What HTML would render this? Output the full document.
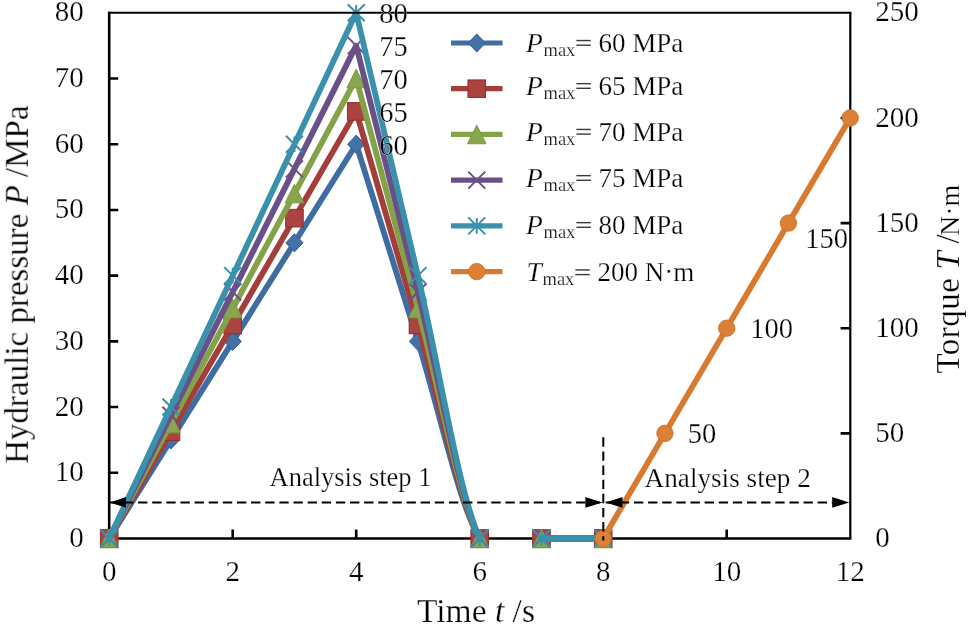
<!DOCTYPE html><html><head><meta charset="utf-8"><style>html,body{margin:0;padding:0;background:#fff;overflow:hidden}svg{display:block}</style></head><body>
<svg width="968" height="625" viewBox="0 0 968 625" font-family="&quot;Liberation Serif&quot;, serif" fill="#000">
<rect x="0" y="0" width="968" height="625" fill="#fff"/>
<path d="M109.20,472.79h9M109.20,407.07h9M109.20,341.36h9M109.20,275.65h9M109.20,209.94h9M109.20,144.22h9M109.20,78.51h9M232.70,538.50v-9M356.20,538.50v-9M479.70,538.50v-9M603.20,538.50v-9M726.70,538.50v-9M850.20,433.36h-9.6M850.20,328.22h-9.6M850.20,223.08h-9.6M850.20,117.94h-9.6" stroke="#000" stroke-width="2.6" fill="none"/>
<path d="M850.30,12.80V538.50" stroke="#000" stroke-width="2.2" fill="none"/>
<path d="M109.20,11.80V538.50H851.40" stroke="#000" stroke-width="2.6" fill="none"/>
<path d="M109.20,538.50 L170.95,439.93 L232.70,341.36 L294.45,242.79 L356.20,144.22 L417.95,341.36 C438.53,407.07 459.12,505.64 479.70,538.50 M541.45,538.50 L603.20,538.50" stroke="#3E6CA3" stroke-width="5.8" fill="none" stroke-linejoin="round" stroke-linecap="round"/>
<polygon points="109.20,529.40 117.80,538.50 109.20,547.60 100.60,538.50" fill="#4472A8" stroke="#30609A" stroke-width="1"/>
<polygon points="170.95,430.83 179.55,439.93 170.95,449.03 162.35,439.93" fill="#4472A8" stroke="#30609A" stroke-width="1"/>
<polygon points="232.70,332.26 241.30,341.36 232.70,350.46 224.10,341.36" fill="#4472A8" stroke="#30609A" stroke-width="1"/>
<polygon points="294.45,233.69 303.05,242.79 294.45,251.89 285.85,242.79" fill="#4472A8" stroke="#30609A" stroke-width="1"/>
<polygon points="356.20,135.12 364.80,144.22 356.20,153.32 347.60,144.22" fill="#4472A8" stroke="#30609A" stroke-width="1"/>
<polygon points="417.95,332.26 426.55,341.36 417.95,350.46 409.35,341.36" fill="#4472A8" stroke="#30609A" stroke-width="1"/>
<polygon points="479.70,529.40 488.30,538.50 479.70,547.60 471.10,538.50" fill="#4472A8" stroke="#30609A" stroke-width="1"/>
<polygon points="541.45,529.40 550.05,538.50 541.45,547.60 532.85,538.50" fill="#4472A8" stroke="#30609A" stroke-width="1"/>
<polygon points="603.20,529.40 611.80,538.50 603.20,547.60 594.60,538.50" fill="#4472A8" stroke="#30609A" stroke-width="1"/>
<path d="M109.20,538.50 L170.95,431.72 L232.70,324.93 L294.45,218.15 L356.20,111.37 L417.95,324.93 C438.53,396.12 459.12,502.91 479.70,538.50 M541.45,538.50 L603.20,538.50" stroke="#A43E3B" stroke-width="5.8" fill="none" stroke-linejoin="round" stroke-linecap="round"/>
<rect x="100.40" y="529.70" width="17.60" height="17.60" fill="#A94441" stroke="#962E2C" stroke-width="1"/>
<rect x="162.15" y="422.92" width="17.60" height="17.60" fill="#A94441" stroke="#962E2C" stroke-width="1"/>
<rect x="223.90" y="316.13" width="17.60" height="17.60" fill="#A94441" stroke="#962E2C" stroke-width="1"/>
<rect x="285.65" y="209.35" width="17.60" height="17.60" fill="#A94441" stroke="#962E2C" stroke-width="1"/>
<rect x="347.40" y="102.57" width="17.60" height="17.60" fill="#A94441" stroke="#962E2C" stroke-width="1"/>
<rect x="409.15" y="316.13" width="17.60" height="17.60" fill="#A94441" stroke="#962E2C" stroke-width="1"/>
<rect x="470.90" y="529.70" width="17.60" height="17.60" fill="#A94441" stroke="#962E2C" stroke-width="1"/>
<rect x="532.65" y="529.70" width="17.60" height="17.60" fill="#A94441" stroke="#962E2C" stroke-width="1"/>
<rect x="594.40" y="529.70" width="17.60" height="17.60" fill="#A94441" stroke="#962E2C" stroke-width="1"/>
<path d="M109.20,538.50 L170.95,423.50 L232.70,308.51 L294.45,193.51 L356.20,78.51 L417.95,308.51 C438.53,385.17 459.12,500.17 479.70,538.50 M541.45,538.50 L603.20,538.50" stroke="#84A247" stroke-width="5.8" fill="none" stroke-linejoin="round" stroke-linecap="round"/>
<polygon points="109.20,529.20 118.50,547.80 99.90,547.80" fill="#88A64C" stroke="#7C9A40" stroke-width="1"/>
<polygon points="170.95,414.20 180.25,432.80 161.65,432.80" fill="#88A64C" stroke="#7C9A40" stroke-width="1"/>
<polygon points="232.70,299.21 242.00,317.81 223.40,317.81" fill="#88A64C" stroke="#7C9A40" stroke-width="1"/>
<polygon points="294.45,184.21 303.75,202.81 285.15,202.81" fill="#88A64C" stroke="#7C9A40" stroke-width="1"/>
<polygon points="356.20,69.21 365.50,87.81 346.90,87.81" fill="#88A64C" stroke="#7C9A40" stroke-width="1"/>
<polygon points="417.95,299.21 427.25,317.81 408.65,317.81" fill="#88A64C" stroke="#7C9A40" stroke-width="1"/>
<polygon points="479.70,529.20 489.00,547.80 470.40,547.80" fill="#88A64C" stroke="#7C9A40" stroke-width="1"/>
<polygon points="541.45,529.20 550.75,547.80 532.15,547.80" fill="#88A64C" stroke="#7C9A40" stroke-width="1"/>
<polygon points="603.20,529.20 612.50,547.80 593.90,547.80" fill="#88A64C" stroke="#7C9A40" stroke-width="1"/>
<path d="M109.20,538.50 L170.95,415.29 L232.70,292.08 L294.45,168.87 L356.20,45.66 L417.95,292.08 C438.53,374.22 459.12,497.43 479.70,538.50 M541.45,538.50 L603.20,538.50" stroke="#6A5089" stroke-width="5.8" fill="none" stroke-linejoin="round" stroke-linecap="round"/>
<path d="M100.70,530.00L117.70,547.00M100.70,547.00L117.70,530.00" stroke="#6A5089" stroke-width="2" fill="none"/>
<path d="M162.45,406.79L179.45,423.79M162.45,423.79L179.45,406.79" stroke="#6A5089" stroke-width="2" fill="none"/>
<path d="M224.20,283.58L241.20,300.58M224.20,300.58L241.20,283.58" stroke="#6A5089" stroke-width="2" fill="none"/>
<path d="M285.95,160.37L302.95,177.37M285.95,177.37L302.95,160.37" stroke="#6A5089" stroke-width="2" fill="none"/>
<path d="M347.70,37.16L364.70,54.16M347.70,54.16L364.70,37.16" stroke="#6A5089" stroke-width="2" fill="none"/>
<path d="M409.45,283.58L426.45,300.58M409.45,300.58L426.45,283.58" stroke="#6A5089" stroke-width="2" fill="none"/>
<path d="M471.20,530.00L488.20,547.00M471.20,547.00L488.20,530.00" stroke="#6A5089" stroke-width="2" fill="none"/>
<path d="M532.95,530.00L549.95,547.00M532.95,547.00L549.95,530.00" stroke="#6A5089" stroke-width="2" fill="none"/>
<path d="M594.70,530.00L611.70,547.00M594.70,547.00L611.70,530.00" stroke="#6A5089" stroke-width="2" fill="none"/>
<path d="M109.20,538.50 L170.95,407.07 L232.70,275.65 L294.45,144.22 L356.20,12.80 L417.95,275.65 C438.53,363.27 459.12,494.69 479.70,538.50 M541.45,538.50 L603.20,538.50" stroke="#3A91AB" stroke-width="5.8" fill="none" stroke-linejoin="round" stroke-linecap="round"/>
<path d="M100.70,530.00L117.70,547.00M100.70,547.00L117.70,530.00M109.20,530.70L109.20,546.30" stroke="#3A91AB" stroke-width="2" fill="none"/>
<path d="M162.45,398.57L179.45,415.57M162.45,415.57L179.45,398.57M170.95,399.27L170.95,414.88" stroke="#3A91AB" stroke-width="2" fill="none"/>
<path d="M224.20,267.15L241.20,284.15M224.20,284.15L241.20,267.15M232.70,267.85L232.70,283.45" stroke="#3A91AB" stroke-width="2" fill="none"/>
<path d="M285.95,135.72L302.95,152.72M285.95,152.72L302.95,135.72M294.45,136.42L294.45,152.02" stroke="#3A91AB" stroke-width="2" fill="none"/>
<path d="M347.70,4.30L364.70,21.30M347.70,21.30L364.70,4.30M356.20,5.00L356.20,20.60" stroke="#3A91AB" stroke-width="2" fill="none"/>
<path d="M409.45,267.15L426.45,284.15M409.45,284.15L426.45,267.15M417.95,267.85L417.95,283.45" stroke="#3A91AB" stroke-width="2" fill="none"/>
<path d="M471.20,530.00L488.20,547.00M471.20,547.00L488.20,530.00M479.70,530.70L479.70,546.30" stroke="#3A91AB" stroke-width="2" fill="none"/>
<path d="M532.95,530.00L549.95,547.00M532.95,547.00L549.95,530.00M541.45,530.70L541.45,546.30" stroke="#3A91AB" stroke-width="2" fill="none"/>
<path d="M594.70,530.00L611.70,547.00M594.70,547.00L611.70,530.00M603.20,530.70L603.20,546.30" stroke="#3A91AB" stroke-width="2" fill="none"/>
<path d="M603.20,538.50 L664.95,433.36 L726.70,328.22 L788.45,223.08 L850.20,117.94" stroke="#D87B31" stroke-width="5.8" fill="none" stroke-linejoin="round" stroke-linecap="round"/>
<circle cx="603.20" cy="538.50" r="8.2" fill="#DC8036" stroke="#CE7128" stroke-width="0.9"/>
<circle cx="664.95" cy="433.36" r="8.2" fill="#DC8036" stroke="#CE7128" stroke-width="0.9"/>
<circle cx="726.70" cy="328.22" r="8.2" fill="#DC8036" stroke="#CE7128" stroke-width="0.9"/>
<circle cx="788.45" cy="223.08" r="8.2" fill="#DC8036" stroke="#CE7128" stroke-width="0.9"/>
<circle cx="850.20" cy="117.94" r="8.2" fill="#DC8036" stroke="#CE7128" stroke-width="0.9"/>
<path d="M108.00,12.80H851.40" stroke="#000" stroke-width="2.1" fill="none"/>
<g stroke="#000" stroke-width="2" stroke-dasharray="9.35 4.78" fill="none">
<path d="M109.8,502.4H600"/>
<path d="M605.7,502.4H834"/>
<path d="M603.3,437.3V540.5"/>
</g>
<polygon points="109.8,502.4 126.0,497.0 126.0,507.79999999999995" fill="#000"/>
<polygon points="602.4,502.4 585.4,497.0 585.4,507.79999999999995" fill="#000"/>
<polygon points="605.5,502.4 622.5,497.0 622.5,507.79999999999995" fill="#000"/>
<polygon points="849.2,502.4 832.2,497.0 832.2,507.79999999999995" fill="#000"/>
<g opacity="0.999" stroke="#fff" stroke-width="0.25">
<text x="83.8" y="546.9" font-size="29" text-anchor="end">0</text>
<text x="83.8" y="481.2" font-size="29" text-anchor="end">10</text>
<text x="83.8" y="415.5" font-size="29" text-anchor="end">20</text>
<text x="83.8" y="349.8" font-size="29" text-anchor="end">30</text>
<text x="83.8" y="284.0" font-size="29" text-anchor="end">40</text>
<text x="83.8" y="218.3" font-size="29" text-anchor="end">50</text>
<text x="83.8" y="152.6" font-size="29" text-anchor="end">60</text>
<text x="83.8" y="86.9" font-size="29" text-anchor="end">70</text>
<text x="83.8" y="21.2" font-size="29" text-anchor="end">80</text>
<text x="109.2" y="581" font-size="29" text-anchor="middle">0</text>
<text x="232.7" y="581" font-size="29" text-anchor="middle">2</text>
<text x="356.2" y="581" font-size="29" text-anchor="middle">4</text>
<text x="479.7" y="581" font-size="29" text-anchor="middle">6</text>
<text x="603.2" y="581" font-size="29" text-anchor="middle">8</text>
<text x="726.7" y="581" font-size="29" text-anchor="middle">10</text>
<text x="850.2" y="581" font-size="29" text-anchor="middle">12</text>
<text x="875.3" y="547.1" font-size="29">0</text>
<text x="875.3" y="442.0" font-size="29">50</text>
<text x="875.3" y="336.8" font-size="29">100</text>
<text x="875.3" y="231.7" font-size="29">150</text>
<text x="875.3" y="126.5" font-size="29">200</text>
<text x="875.3" y="21.4" font-size="29">250</text>
<text x="379.2" y="23.4" font-size="28.5">80</text>
<text x="379.2" y="56.3" font-size="28.5">75</text>
<text x="379.2" y="89.1" font-size="28.5">70</text>
<text x="379.2" y="122.0" font-size="28.5">65</text>
<text x="379.2" y="154.8" font-size="28.5">60</text>
<text x="687.8" y="443.2" font-size="28.5">50</text>
<text x="750.2" y="338.0" font-size="28.5">100</text>
<text x="805.2" y="248.1" font-size="28.5">150</text>
<text x="269.5" y="485.7" font-size="26.5">Analysis step 1</text>
<text x="644.6" y="486.8" font-size="27.2">Analysis step 2</text>
<text x="417" y="622" font-size="33.5">Time <tspan font-style="italic">t</tspan> /s</text>
<text transform="translate(27.8,463.8) rotate(-90)" font-size="33">Hydraulic pressure <tspan font-style="italic">P</tspan> /MPa</text>
<text transform="translate(958.5,373.6) rotate(-90)" font-size="33" letter-spacing="0.5">Torque</text>
<text transform="translate(958.5,269.8) rotate(-90)" font-size="33" font-style="italic">T</text>
<text transform="translate(958.5,243.5) rotate(-90)" font-size="33">/</text>
<text transform="translate(958.5,236) rotate(-90)" font-size="28">N·m</text>
<path d="M451.0,43.00H502.5" stroke="#3E6CA3" stroke-width="5.2" stroke-linecap="butt"/>
<polygon points="476.75,33.90 485.35,43.00 476.75,52.10 468.15,43.00" fill="#4472A8" stroke="#30609A" stroke-width="1"/>
<text x="526.0" y="52.00" font-size="27.5" font-style="italic">P</text>
<text x="543.5" y="55.80" font-size="18.5">max</text>
<rect x="576.4" y="39.85" width="14.4" height="1.4" fill="#3a3a3a" stroke="none"/><rect x="576.4" y="44.50" width="14.4" height="1.4" fill="#3a3a3a" stroke="none"/>
<text x="598.6" y="52.00" font-size="27">60 MPa</text>
<path d="M451.0,88.72H502.5" stroke="#A43E3B" stroke-width="5.2" stroke-linecap="butt"/>
<rect x="467.95" y="79.92" width="17.60" height="17.60" fill="#A94441" stroke="#962E2C" stroke-width="1"/>
<text x="526.0" y="95.10" font-size="27.5" font-style="italic">P</text>
<text x="543.5" y="98.90" font-size="18.5">max</text>
<rect x="576.4" y="82.95" width="14.4" height="1.4" fill="#3a3a3a" stroke="none"/><rect x="576.4" y="87.60" width="14.4" height="1.4" fill="#3a3a3a" stroke="none"/>
<text x="598.6" y="95.10" font-size="27">65 MPa</text>
<path d="M451.0,134.44H502.5" stroke="#84A247" stroke-width="5.2" stroke-linecap="butt"/>
<polygon points="476.75,125.14 486.05,143.74 467.45,143.74" fill="#88A64C" stroke="#7C9A40" stroke-width="1"/>
<text x="526.0" y="140.90" font-size="27.5" font-style="italic">P</text>
<text x="543.5" y="144.70" font-size="18.5">max</text>
<rect x="576.4" y="128.75" width="14.4" height="1.4" fill="#3a3a3a" stroke="none"/><rect x="576.4" y="133.40" width="14.4" height="1.4" fill="#3a3a3a" stroke="none"/>
<text x="598.6" y="140.90" font-size="27">70 MPa</text>
<path d="M451.0,180.16H502.5" stroke="#6A5089" stroke-width="5.2" stroke-linecap="butt"/>
<path d="M468.25,171.66L485.25,188.66M468.25,188.66L485.25,171.66" stroke="#6A5089" stroke-width="2" fill="none"/>
<text x="526.0" y="187.10" font-size="27.5" font-style="italic">P</text>
<text x="543.5" y="190.90" font-size="18.5">max</text>
<rect x="576.4" y="174.95" width="14.4" height="1.4" fill="#3a3a3a" stroke="none"/><rect x="576.4" y="179.60" width="14.4" height="1.4" fill="#3a3a3a" stroke="none"/>
<text x="598.6" y="187.10" font-size="27">75 MPa</text>
<path d="M451.0,225.88H502.5" stroke="#3A91AB" stroke-width="5.2" stroke-linecap="butt"/>
<path d="M468.25,217.38L485.25,234.38M468.25,234.38L485.25,217.38M476.75,218.08L476.75,233.68" stroke="#3A91AB" stroke-width="2" fill="none"/>
<text x="526.0" y="234.10" font-size="27.5" font-style="italic">P</text>
<text x="543.5" y="237.90" font-size="18.5">max</text>
<rect x="576.4" y="221.95" width="14.4" height="1.4" fill="#3a3a3a" stroke="none"/><rect x="576.4" y="226.60" width="14.4" height="1.4" fill="#3a3a3a" stroke="none"/>
<text x="598.6" y="234.10" font-size="27">80 MPa</text>
<path d="M451.0,271.60H502.5" stroke="#D87B31" stroke-width="5.2" stroke-linecap="butt"/>
<circle cx="476.75" cy="271.60" r="8.2" fill="#DC8036" stroke="#CE7128" stroke-width="0.9"/>
<text x="526.6" y="281.40" font-size="27.5" font-style="italic">T</text>
<text x="542.5" y="285.20" font-size="18.5">max</text>
<rect x="575.4" y="269.25" width="14.4" height="1.4" fill="#3a3a3a" stroke="none"/><rect x="575.4" y="273.90" width="14.4" height="1.4" fill="#3a3a3a" stroke="none"/>
<text x="597.5" y="281.40" font-size="27">200 N·m</text>
</g>
</svg></body></html>
